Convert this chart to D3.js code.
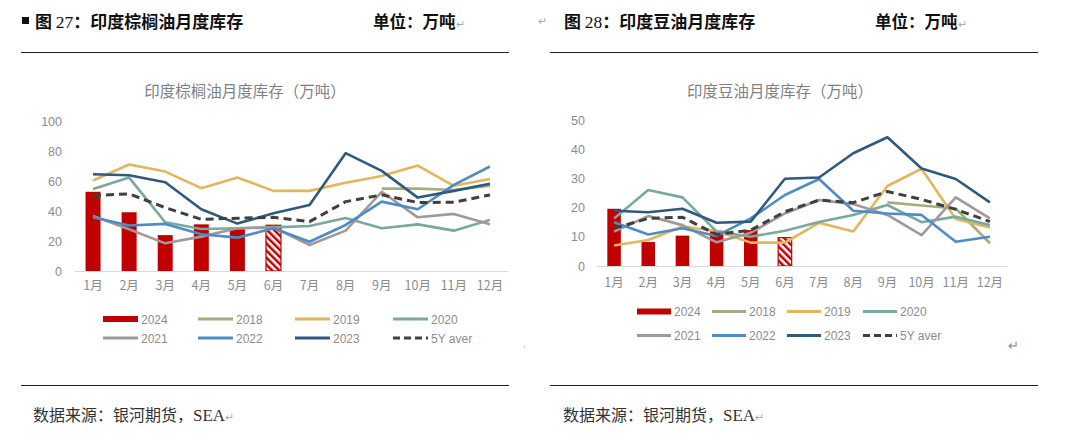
<!DOCTYPE html>
<html><head><meta charset="utf-8">
<script src="https://cdn.jsdelivr.net/npm/d3@7/dist/d3.min.js"></script>
<style>
html,body{margin:0;padding:0;background:#fff;}
svg{display:block;}
</style></head>
<body>
<svg id="c" width="1080" height="447"></svg>
<script>
const months = ["1月","2月","3月","4月","5月","6月","7月","8月","9月","10月","11月","12月"];
const seriesNames = ["2024","2018","2019","2020","2021","2022","2023","5Y aver"];
const seriesColors = ["#C00000","#A3AE80","#E2B65A","#79A99A","#A39898","#4E8CC6","#2F5A7E","#404040"];

// Palm oil (left)
const palm2024 = [53,39.3,24,31.2,28,30.6];
const palm2018 = [null,null,null,null,null,null,null,null,55.1,55.1,54.2,57];
const palm2019 = [60.5,71.2,66.5,55.4,62.5,53.6,53.6,59,63.6,70.5,57,61.6];
const palm2020 = [54.9,62.5,32.6,28.1,28.6,29.2,30.1,35.5,28.6,31.2,27,34.2];
const palm2021 = [36.8,27.9,18.5,23,28.6,29.2,17.4,27,53,35.9,38.2,31.2];
const palm2022 = [35.9,30.4,31.5,24.6,22.3,28.6,19.6,30.8,46.4,41.3,57.6,69.9];
const palm2023 = [64.7,64,59.4,41.3,31.7,38.6,44.2,78.8,67,49.1,53.6,58.3];
const palmAvg  = [50.4,51.6,42.4,34.6,35.3,35.9,33,46.4,50.9,45.8,46,50.9];
const palmTicks = [0,20,40,60,80,100];

// Soybean oil (right)
const soy2024 = [19.6,8.2,10.4,12.1,12.3,9.7];
const soy2018 = [null,null,null,null,null,null,null,null,21.8,20.7,19.7,7.8];
const soy2019 = [7,8.9,13.5,12,8,8,14.8,11.8,27.4,33.3,16.1,13.2];
const soy2020 = [16.3,26,23.5,11.8,10,12.1,15.1,17.5,20.9,15,16.9,14];
const soy2021 = [11.8,17.1,14,8.1,11.4,18,22.6,21.2,17.5,10.6,23.5,16.3];
const soy2022 = [15,10.8,12.9,10.3,16.3,24.3,29.8,18.9,18,17.5,8.3,10];
const soy2023 = [18.9,18.4,19.6,14.8,15.2,29.9,30.3,38.6,44.1,33.4,29.8,21.8];
const soyAvg  = [12.9,16.3,16.7,10.8,12.3,18.6,22.6,21.7,25.5,22.8,19.4,15.2];
const soyTicks = [0,10,20,30,40,50];

const svg = d3.select("#c");
svg.append("rect").attr("width",1080).attr("height",447).attr("fill","#fff");

const defs = svg.append("defs");
const pat = defs.append("pattern").attr("id","hatch").attr("patternUnits","userSpaceOnUse")
  .attr("width",5).attr("height",5).attr("patternTransform","rotate(-45)");
pat.append("rect").attr("width",5).attr("height",5).attr("fill","#fff");
pat.append("rect").attr("width",2.5).attr("height",5).attr("fill","#C00000");

const serif = "'Liberation Serif','Noto Sans CJK SC',serif";
const cjkSans = "'Noto Sans CJK SC','Noto Sans',sans-serif";
const numFont = "'Liberation Sans','Noto Sans CJK SC',sans-serif";

function header(cfg){
  const g = svg.append("g");
  if(cfg.square){
    g.append("rect").attr("x",22).attr("y",17).attr("width",7).attr("height",7).attr("fill","#111");
  }
  const t = g.append("text").attr("x",cfg.hx).attr("y",28).attr("font-size",17).attr("font-weight","bold")
    .attr("fill","#111").attr("font-family",cjkSans);
  t.append("tspan").text("图 ");
  t.append("tspan").attr("font-family",serif).attr("font-weight","normal").attr("font-size",17.5).text(cfg.num);
  t.append("tspan").text("：" + cfg.title);
  const u = g.append("text").attr("x",cfg.ux).attr("y",28).attr("font-size",16.5).attr("font-weight","bold")
    .attr("fill","#111").attr("font-family",cjkSans);
  u.append("tspan").text("单位：万吨");
  u.append("tspan").attr("font-size",11).attr("font-weight","normal").attr("fill","#aaa").text("↵");
  g.append("line").attr("x1",cfg.lx1).attr("x2",cfg.lx2).attr("y1",52.5).attr("y2",52.5).attr("stroke","#222").attr("stroke-width",1);
  g.append("line").attr("x1",cfg.lx1).attr("x2",cfg.lx2).attr("y1",385.5).attr("y2",385.5).attr("stroke","#222").attr("stroke-width",1);
  const s = g.append("text").attr("x",cfg.sx).attr("y",421).attr("font-size",16).attr("fill","#333").attr("font-family",cjkSans);
  s.append("tspan").text("数据来源：银河期货，");
  s.append("tspan").attr("font-family",serif).attr("font-size",17).text("SEA");
  s.append("tspan").attr("font-size",11).attr("fill","#aaa").text("↵");
  g.append("text").attr("x",cfg.cx).attr("y",97).attr("text-anchor","middle").attr("font-size",15.5)
    .attr("fill","#7f7f7f").attr("font-family",cjkSans).text(cfg.chartTitle);
}

function chart(cfg){
  const g = svg.append("g");
  const x = d3.scaleBand().domain(months).range(cfg.xr).padding(0);
  const y = d3.scaleLinear().domain([0, cfg.max]).range(cfg.yr);
  g.selectAll(".yl").data(cfg.ticks).join("text")
    .attr("x",cfg.ylx).attr("y",d=>y(d)+4.5).attr("text-anchor","end")
    .attr("font-size",12.5).attr("fill","#8c8c8c").attr("font-family",numFont).text(d=>d);
  g.selectAll(".bar").data(cfg.bars).join("rect")
    .attr("x",(d,i)=>x(months[i])+x.bandwidth()/2-cfg.bw/2)
    .attr("width",cfg.bw)
    .attr("y",d=>y(d)).attr("height",d=>y(0)-y(d))
    .attr("fill",(d,i)=> i===cfg.bars.length-1 ? "url(#hatch)" : "#C00000")
    .attr("stroke",(d,i)=> i===cfg.bars.length-1 ? "#C00000" : "none")
    .attr("stroke-width",1.2);
  g.append("line").attr("x1",cfg.xr[0]).attr("x2",cfg.xr[1]).attr("y1",y(0)+0.5).attr("y2",y(0)+0.5)
    .attr("stroke","#d9d9d9").attr("stroke-width",1.2);
  g.selectAll(".xl").data(months).join("text")
    .attr("x",d=>x(d)+x.bandwidth()/2).attr("y",cfg.xly).attr("text-anchor","middle")
    .attr("font-size",12.5).attr("fill","#8c8c8c").attr("font-family",cjkSans).text(d=>d);
  const line = d3.line().defined(d=>d!=null).x((d,i)=>x(months[i])+x.bandwidth()/2).y(d=>y(d));
  [1,2,3,4,5,6,7].forEach(k=>{
    g.append("path").datum(cfg.lines[k-1]).attr("d",line).attr("fill","none")
      .attr("stroke",seriesColors[k]).attr("stroke-width",k===7?3:2.6)
      .attr("stroke-dasharray",k===7?"8,5":null).attr("stroke-linejoin","round");
  });
  seriesNames.forEach((n,i)=>{
    const col = i%4, row = Math.floor(i/4);
    const lx = cfg.legX[col], ly = cfg.legY[row];
    if(i===0){
      g.append("rect").attr("x",lx).attr("y",ly-3).attr("width",cfg.sw).attr("height",6).attr("fill",seriesColors[0]);
    } else {
      g.append("line").attr("x1",lx).attr("x2",lx+cfg.sw).attr("y1",ly).attr("y2",ly)
        .attr("stroke",seriesColors[i]).attr("stroke-width",3)
        .attr("stroke-dasharray",i===7?"7,4":null);
    }
    g.append("text").attr("x",lx+cfg.sw+3).attr("y",ly+4.5).attr("font-size",12)
      .attr("fill","#8c8c8c").attr("font-family",numFont).text(n);
  });
}

header({hx:35,num:"27",title:"印度棕榈油月度库存",square:true,ux:373,lx1:21,lx2:509,sx:33,cx:245,chartTitle:"印度棕榈油月度库存（万吨）"});
header({hx:564,num:"28",title:"印度豆油月度库存",square:false,ux:875,lx1:550,lx2:1038,sx:563,cx:780,chartTitle:"印度豆油月度库存（万吨）"});
svg.append("text").attr("x",538).attr("y",25).attr("font-size",11).attr("fill","#aaa").text("↵");
svg.append("text").attr("x",1008).attr("y",350).attr("font-size",13).attr("fill","#888").text("↵");
svg.append("rect").attr("x",524).attr("y",346).attr("width",1).attr("height",2).attr("fill","#ccc");

chart({xr:[75,508],yr:[271,121.5],max:100,ticks:palmTicks,ylx:62,xly:290,bw:15,
  bars:palm2024,lines:[palm2018,palm2019,palm2020,palm2021,palm2022,palm2023,palmAvg],
  legX:[103,198,295,393],legY:[319,338],sw:35});
chart({xr:[597,1007],yr:[266,120],max:50,ticks:soyTicks,ylx:585,xly:287,bw:13.5,
  bars:soy2024,lines:[soy2018,soy2019,soy2020,soy2021,soy2022,soy2023,soyAvg],
  legX:[637,712,787,863],legY:[311.5,335.5],sw:34});
</script>
</body></html>
